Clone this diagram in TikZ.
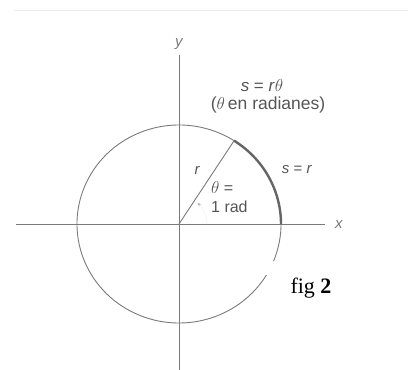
\documentclass[tikz,border=0pt]{standalone}
\usepackage{fontspec}
\setmainfont{Liberation Sans}
\newfontfamily\figfont{Liberation Serif}
\usetikzlibrary{arrows.meta}
\definecolor{axisgray}{HTML}{7A7A7A}
\definecolor{textgray}{HTML}{555555}
\definecolor{arcgray}{HTML}{656565}
\begin{document}
\begin{tikzpicture}[x=1pt,y=1pt,
  thinline/.style={draw=axisgray,line width=0.9pt},
  lbl/.style={text=textgray,font=\fontsize{16}{19}\selectfont,inner sep=0pt},
  ]
\useasboundingbox (-179,-146) rectangle (229,224);
\coordinate (O) at (0,0);
\coordinate (xl) at (-163,0);
\coordinate (xr) at (146,0);
\coordinate (yt) at (0,169);
\coordinate (yb) at (0,-146);
\coordinate (tl) at (-165,214);
\coordinate (tr) at (229,214);
\coordinate (P) at ({102*cos(57.3)},{99*sin(57.3)});
% faint top rule
\draw[draw=black!8,line width=0.8pt] (tl) -- (tr);
% axes
\draw[thinline] (xl) -- (xr);
\draw[thinline] (yt) -- (yb);
\node[lbl,font=\fontsize{15}{18}\selectfont\itshape,text=axisgray] (xlab) at (160,-1) {x};
\node[lbl,font=\fontsize{15}{18}\selectfont\itshape,text=axisgray] (ylab) at (0,180) {y};
% circle with a gap
\draw[thinline] (-22:102 and 99) arc[start angle=-22,end angle=329,x radius=102,y radius=99];
% thick arc s = r
\draw[draw=arcgray,line width=2.4pt] (0:102 and 99) arc[start angle=0,end angle=57.3,x radius=102,y radius=99];
% radius
\draw[thinline] (O) -- (P);
% angle mark
\draw[draw=black!5,line width=0.6pt,-{Stealth[length=4pt,width=3pt,color=black!30]}] (28,0) arc[start angle=0,end angle=49,radius=28];
% labels
\node[lbl,font=\fontsize{17}{20}\selectfont] (srt) at (83,138) {\textit{s} = \textit{r}$\theta$};
\node[lbl,font=\fontsize{17.5}{20}\selectfont] (rad) at (89,119) {($\theta$\hspace{3pt}en radianes)};
\node[lbl,font=\fontsize{15}{18}\selectfont\itshape] (r) at (18,54) {r};
\node[lbl,font=\fontsize{15}{18}\selectfont] (sr) at (118,54) {\textit{s} = \textit{r}};
\node[lbl,anchor=west] (th) at (32,36) {$\theta$ =};
\node[lbl,anchor=west] (one) at (32,17) {1 rad};
\node[inner sep=0pt,font=\figfont\fontsize{22}{26}\selectfont] (fig) at (132,-64) {fig \textbf{2}};
\end{tikzpicture}
\end{document}
